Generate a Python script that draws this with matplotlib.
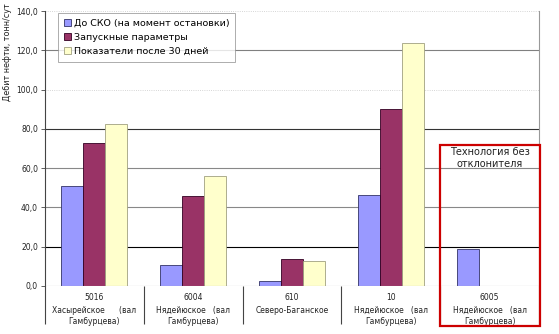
import matplotlib
matplotlib.use("Agg")
import matplotlib.pyplot as plt
from matplotlib.patches import Rectangle
import numpy as np

# chart data
wells = ["5016", "6004", "610", "10", "6005"]
fields = [
    "Хасырейское      (вал\nГамбурцева)",
    "Нядейюское   (вал\nГамбурцева)",
    "Северо-Баганское",
    "Нядейюское   (вал\nГамбурцева)",
    "Нядейюское   (вал\nГамбурцева)",
]
series_names = [
    "До СКО (на момент остановки)",
    "Запускные параметры",
    "Показатели после 30 дней",
]
before_sko = [51.0, 10.6, 2.7, 46.1, 19.0]
launch = [72.9, 45.6, 13.6, 90.2, 0.0]
after_30 = [82.7, 56.2, 12.8, 123.6, 0.0]
y_ticks = [0, 20, 40, 60, 80, 100, 120, 140]

colors = ["#9999ff", "#993366", "#ffffcc"]
edges = ["#333366", "#330022", "#a0a080"]
grid_colors = ["#000000", "#000000", "#888888", "#888888", "#333333",
               "#c8c8c8", "#808080", "#c8c8c8"]

plt.rcParams["font.family"] = ["DejaVu Sans"]

fig = plt.figure(figsize=(5.59, 3.34), dpi=100)
ax = fig.add_axes([45 / 559, 1 - 286 / 334, 494 / 559, 275 / 334])

x = np.arange(len(wells))
width = 0.222
for i, vals in enumerate([before_sko, launch, after_30]):
    ax.bar(x + (i - 1) * width, vals, width, color=colors[i],
           edgecolor=edges[i], linewidth=0.6, label=series_names[i], zorder=3)

for yv, gc in zip(y_ticks, grid_colors):
    if yv == 0:
        continue
    ax.axhline(yv, color=gc, linewidth=0.8 if gc != "#c8c8c8" else 0.6,
               linestyle=":" if gc == "#c8c8c8" else "-", zorder=1)
ax.axhline(0, color="#999999", linewidth=0.8, zorder=4)

ax.set_xlim(-0.5, len(wells) - 0.5)
ax.set_ylim(0, 140)
ax.set_yticks(y_ticks)
ax.set_yticklabels([f"{v:.1f}".replace(".", ",") for v in y_ticks],
                   fontsize=5.5, color="#222222")
ax.tick_params(axis="y", length=3, width=0.6, color="#444444", pad=2)

# category axis with separators
ax.set_xticks(x)
ax.set_xticklabels([])
ax.tick_params(axis="x", which="major", length=0)
ax.set_xticks(np.arange(-0.5, len(wells)), minor=True)
ax.tick_params(axis="x", which="minor", length=27, width=0.8, color="#444444")

for xi, w, f in zip(x, wells, fields):
    ax.text(xi, -0.04, w, transform=ax.get_xaxis_transform(), ha="center",
            va="center", fontsize=5.5, color="#222222")
    ax.text(xi, -0.073, f, transform=ax.get_xaxis_transform(), ha="center",
            va="top", fontsize=5.5, color="#222222", linespacing=1.3)

for side in ["top", "bottom"]:
    ax.spines[side].set_visible(False)
ax.spines["left"].set_color("#444444")
ax.spines["left"].set_linewidth(0.8)
ax.spines["right"].set_color("#999999")
ax.spines["right"].set_linewidth(0.8)

fig.text(8 / 559, 1 - 52 / 334, "Дебит нефти, тонн/сут", rotation=90,
         ha="center", va="center", fontsize=5.8, color="#222222")

leg = ax.legend(loc="upper left", bbox_to_anchor=(0.026, 0.993), fontsize=6.8,
                frameon=True, fancybox=False, handlelength=0.8, handleheight=0.8,
                handletextpad=0.3, borderpad=0.6, labelspacing=0.55,
                edgecolor="#888888", borderaxespad=0)
leg.get_frame().set_linewidth(0.6)
leg.set_zorder(5)

# highlight box
box = Rectangle((440 / 559, 1 - 326 / 334), 100 / 559, 181 / 334,
                transform=fig.transFigure, fill=False, edgecolor="#cc0000",
                linewidth=1.6, zorder=6)
fig.add_artist(box)
fig.text(490 / 559, 1 - 158 / 334, "Технология без\nотклонителя",
         ha="center", va="center", fontsize=7, color="#222222", linespacing=1.15)

fig.savefig("out.png", dpi=100, facecolor="white")
